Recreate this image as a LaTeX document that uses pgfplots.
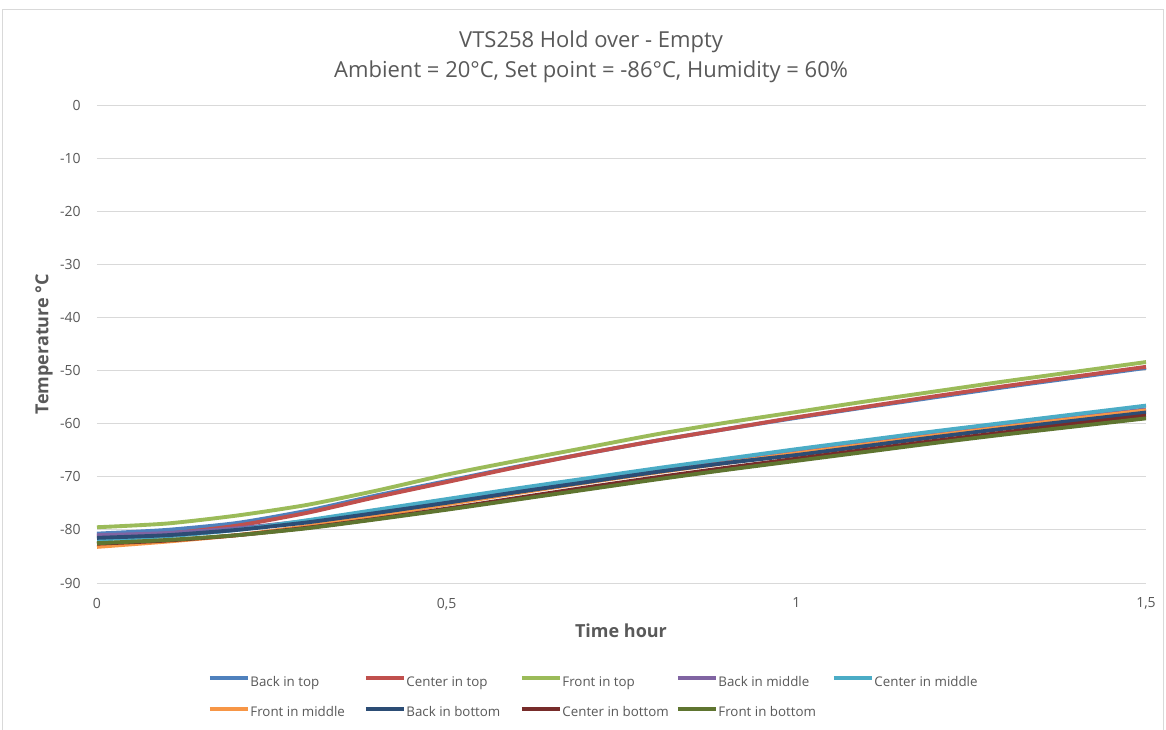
\documentclass[border=0pt]{standalone}
\usepackage{pgfplots}
\pgfplotsset{compat=1.18}
\usepackage{pgfplotstable}
\usepackage{fontspec}
\setmainfont{Open Sans}

\definecolor{txt}{HTML}{595959}
\definecolor{gridc}{HTML}{D9D9D9}
\definecolor{colbt}{HTML}{4F81BD}
\definecolor{colct}{HTML}{C0504D}
\definecolor{colft}{HTML}{9BBB59}
\definecolor{colbm}{HTML}{8064A2}
\definecolor{colcm}{HTML}{4BACC6}
\definecolor{colfm}{HTML}{F79646}
\definecolor{colbb}{HTML}{2C4D75}
\definecolor{colcb}{HTML}{772C2A}
\definecolor{colfb}{HTML}{5F7530}

% temperatures (deg C), every 0.1 h
\pgfplotstableread{
t    bt     ct     ft     bm     cm     fm     bb     cb     fb
0.0  -80.7  -81.2  -79.5  -81.0  -81.8  -83.2  -81.5  -82.6  -82.5
0.1  -80.0  -80.7  -78.8  -80.6  -81.2  -82.2  -81.0  -82.0  -81.9
0.2  -78.7  -79.2  -77.3  -79.7  -80.0  -81.0  -80.0  -81.0  -81.0
0.3  -76.4  -76.8  -75.3  -78.3  -78.2  -79.3  -78.6  -79.6  -79.7
0.4  -73.5  -73.8  -72.6  -76.5  -76.2  -77.3  -76.8  -77.9  -78.0
0.5  -70.8  -71.0  -69.6  -74.6  -74.2  -75.2  -74.9  -76.0  -76.2
0.6  -68.1  -68.2  -67.0  -72.6  -72.2  -73.1  -72.9  -74.0  -74.3
0.7  -65.6  -65.6  -64.5  -70.7  -70.3  -71.1  -71.0  -72.0  -72.4
0.8  -63.2  -63.2  -62.0  -68.9  -68.4  -69.2  -69.1  -70.1  -70.5
0.9  -61.0  -61.0  -59.8  -67.1  -66.6  -67.4  -67.4  -68.3  -68.7
1.0  -58.9  -58.8  -57.8  -65.4  -64.8  -65.6  -65.9  -66.6  -67.0
1.1  -56.9  -56.8  -55.8  -63.7  -63.1  -63.9  -64.2  -64.9  -65.3
1.2  -55.0  -54.8  -53.9  -62.0  -61.4  -62.2  -62.5  -63.2  -63.6
1.3  -53.1  -52.9  -52.0  -60.4  -59.8  -60.6  -60.9  -61.6  -62.0
1.4  -51.3  -51.1  -50.2  -58.8  -58.2  -59.0  -59.4  -60.0  -60.5
1.5  -49.5  -49.3  -48.4  -57.3  -56.6  -57.5  -57.9  -58.5  -59.0
}\temps

\newcommand{\legtxt}[1]{\makebox[84.6pt][l]{#1}}

\begin{document}
\begin{tikzpicture}
\fill[white] (-72.75pt,-109.5pt) rectangle (801.75pt,437.25pt);
\useasboundingbox (-72.75pt,-109.5pt) rectangle (801.75pt,437.25pt);
\draw[gridc, line width=0.75pt] (-70.5pt,-110pt) -- (-70.5pt,429.75pt) -- (799.5pt,429.75pt) -- (799.5pt,-110pt);
\begin{axis}[
    at={(0pt,0pt)}, anchor=south west,
    scale only axis,
    width=786.75pt, height=358.5pt,
    xmin=0, xmax=1.5, ymin=-90, ymax=0,
    xtick={0,0.5,1,1.5},
    ytick={-90,-80,...,0},
    /pgf/number format/use comma,
    /pgf/number format/assume math mode=true,
    major tick length=0pt,
    axis line style={draw=none},
    ymajorgrids=true,
    grid style={gridc, line width=0.75pt},
    tick label style={font=\fontsize{10.5}{12}\selectfont, text=txt},
    yticklabel style={inner sep=0pt, anchor=east, xshift=-12pt},
    xticklabel style={inner sep=0pt, anchor=north, yshift=-11pt},
    title={VTS258 Hold over - Empty\\Ambient = 20°C, Set point = -86°C, Humidity = 60\%},
    title style={at={(axis description cs:0.471,1.0837)}, anchor=center, align=center,
        font=\fontsize{16.5}{22.5}\selectfont, text=txt},
    xlabel={Time hour},
    ylabel={Temperature °C},
    xlabel style={at={(axis description cs:0.4995,-0.1004)}, anchor=center,
        font=\fontsize{13.5}{15}\selectfont\bfseries, text=txt},
    ylabel style={at={(axis description cs:-0.0505,0.5)}, anchor=center,
        font=\fontsize{13.5}{15}\selectfont\bfseries, text=txt},
    legend columns=5,
    legend style={at={(axis description cs:0.4775,-0.2406)}, anchor=center,
        draw=none, fill=none, inner sep=0pt, column sep=0pt, row sep=13pt,
        font=\fontsize{10}{12}\selectfont, text=txt,
        nodes={inner xsep=0.5pt, inner ysep=0pt, text height=7.2pt, text depth=2.2pt}},
    legend cell align=left,
    legend image code/.code={\draw[#1] (0pt,3.5pt) -- (28.5pt,3.5pt);},
    every axis plot/.append style={line width=2.9pt, no markers, smooth, tension=0.4},
    clip=false,
]
\addplot[colbt] table[x=t, y=bt] {\temps};
\addlegendentry{\legtxt{Back in top}}
\addplot[colct] table[x=t, y=ct] {\temps};
\addlegendentry{\legtxt{Center in top}}
\addplot[colft] table[x=t, y=ft] {\temps};
\addlegendentry{\legtxt{Front in top}}
\addplot[colbm] table[x=t, y=bm] {\temps};
\addlegendentry{\legtxt{Back in middle}}
\addplot[colcm] table[x=t, y=cm] {\temps};
\addlegendentry{\legtxt{Center in middle}}
\addplot[colfm] table[x=t, y=fm] {\temps};
\addlegendentry{\legtxt{Front in middle}}
\addplot[colbb] table[x=t, y=bb] {\temps};
\addlegendentry{\legtxt{Back in bottom}}
\addplot[colcb] table[x=t, y=cb] {\temps};
\addlegendentry{\legtxt{Center in bottom}}
\addplot[colfb] table[x=t, y=fb] {\temps};
\addlegendentry{\legtxt{Front in bottom}}
\end{axis}
\end{tikzpicture}
\end{document}
